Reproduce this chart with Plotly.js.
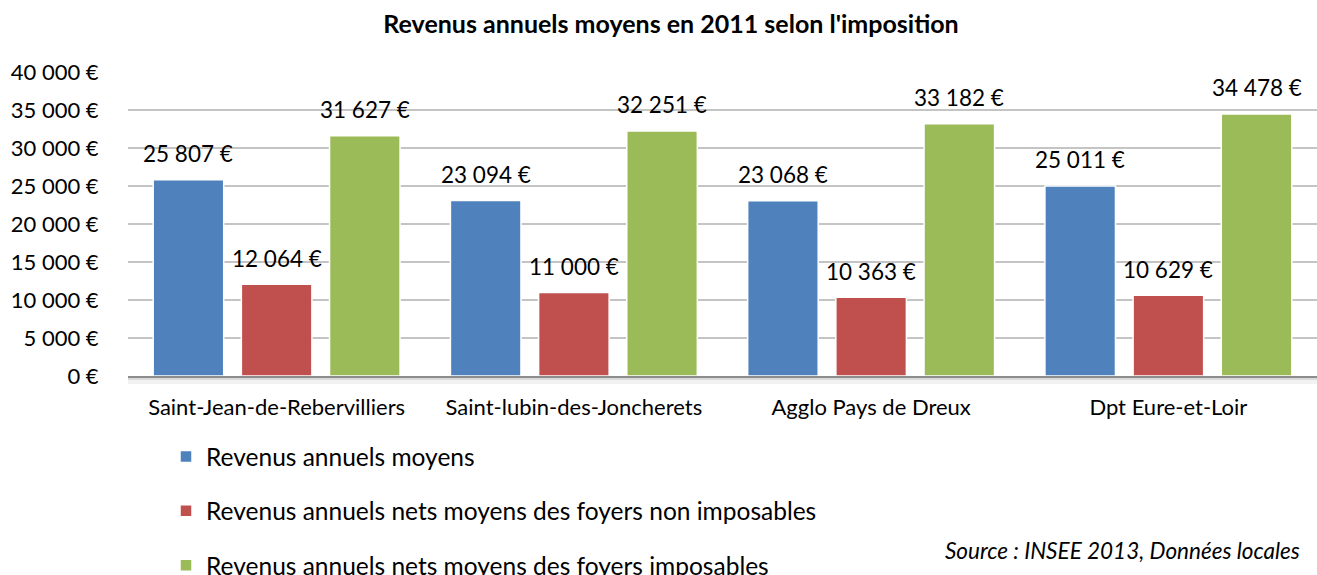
<!DOCTYPE html>
<html>
<head>
<meta charset="utf-8">
<script src="https://cdn.plot.ly/plotly-3.0.1.min.js"></script>
<style>html,body{margin:0;padding:0;background:#fff;}#chart{width:1317px;height:575px;}</style>
</head>
<body>
<div id="chart"></div>
<script>
const categories = ["Saint-Jean-de-Rebervilliers", "Saint-lubin-des-Joncherets", "Agglo Pays de Dreux", "Dpt Eure-et-Loir"];
const seriesNames = ["Revenus annuels moyens", "Revenus annuels nets moyens des foyers non imposables", "Revenus annuels nets moyens des foyers imposables"];
const revenusMoyens = [25807, 23094, 23068, 25011];
const revenusNonImposables = [12064, 11000, 10363, 10629];
const revenusImposables = [31627, 32251, 33182, 34478];
const colors = ["#4f81bd", "#c0504d", "#9bbb59"];
const yTicks = [0, 5000, 10000, 15000, 20000, 25000, 30000, 35000, 40000];

const FONT = "Lato, 'Open Sans', sans-serif";
const series = [revenusMoyens, revenusNonImposables, revenusImposables];

function fmt(v) {
  return String(v).replace(/\B(?=(\d{3})+(?!\d))/g, " ") + " €";
}

const traces = series.map((vals, i) => ({
  type: "bar",
  name: seriesNames[i],
  x: categories,
  y: vals,
  legendgroup: "g" + i,
  marker: { color: colors[i], line: { color: "#ffffff", width: 1.5 } },
  hoverinfo: "skip"
}));

const plotLeft = 128, plotRight = 1317;
const catW = (plotRight - plotLeft) / categories.length;
const bargap = 0.11;
const slot = catW * (1 - bargap) / 3;

const annotations = [];
series.forEach((vals, i) => {
  vals.forEach((v, j) => {
    annotations.push({
      x: categories[j], y: v, xref: "x", yref: "y",
      text: fmt(v), showarrow: false,
      xanchor: "center", yanchor: "middle",
      xshift: (i - 1) * slot, yshift: 26,
      font: { family: FONT, size: 22.5, color: "#000" }
    });
  });
});
annotations.push({
  xref: "paper", yref: "paper", x: (1302 - plotLeft) / (plotRight - plotLeft), y: -(550 - 376) / 304,
  xanchor: "right", yanchor: "middle", showarrow: false,
  text: "<i>Source : INSEE 2013, Données locales</i>",
  font: { family: FONT, size: 22.5, color: "#000" }
});

const layout = {
  width: 1317, height: 575,
  margin: { l: plotLeft, r: 1317 - plotRight, t: 72, b: 199, pad: 0, autoexpand: false },
  paper_bgcolor: "#fff", plot_bgcolor: "#fff",
  font: { family: FONT, color: "#000" },
  title: {
    text: "<b>Revenus annuels moyens en 2011 selon l'imposition</b>",
    xref: "container", yref: "container", x: 671 / 1317, y: 1 - 24 / 575,
    xanchor: "center", yanchor: "middle",
    font: { family: FONT, size: 25, color: "#000" }
  },
  barmode: "group",
  bargap: bargap,
  bargroupgap: 0.2,
  xaxis: {
    type: "category",
    showgrid: false,
    showline: true, linecolor: "#8c8c8c", linewidth: 2,
    ticks: "outside", ticklen: 11, tickcolor: "rgba(0,0,0,0)",
    tickangle: 0,
    automargin: false,
    tickfont: { family: FONT, size: 22, color: "#000" },
    fixedrange: true
  },
  yaxis: {
    range: [0, 40000],
    tickmode: "array",
    tickvals: yTicks,
    ticktext: yTicks.map(fmt),
    showgrid: true, gridcolor: "#c4c4c4", gridwidth: 1.5,
    zeroline: false,
    showline: false,
    automargin: false,
    ticks: "outside", ticklen: 24, tickcolor: "rgba(0,0,0,0)",
    tickfont: { family: FONT, size: 22, color: "#000" },
    fixedrange: true
  },
  shapes: [
    { type: "rect", xref: "paper", yref: "paper", x0: 0, x1: 1, ysizemode: "pixel", yanchor: 0, y0: -1, y1: -4,
      fillcolor: "rgba(0,0,0,0.14)", line: { width: 0 }, layer: "below" },
    { type: "rect", xref: "paper", yref: "paper", x0: 0, x1: 1, ysizemode: "pixel", yanchor: 0, y0: -4, y1: -8,
      fillcolor: "rgba(0,0,0,0.05)", line: { width: 0 }, layer: "below" }
  ],
  showlegend: true,
  legend: {
    orientation: "v",
    xref: "container", yref: "container",
    x: 166 / 1317, y: 1 - 434 / 575,
    xanchor: "left", yanchor: "top",
    tracegroupgap: 19.5,
    itemwidth: 30,
    font: { family: FONT, size: 24.5, color: "#000" },
    bgcolor: "rgba(0,0,0,0)"
  },
  annotations: annotations
};

Plotly.newPlot("chart", traces, layout, { displayModeBar: false, staticPlot: true });
</script>
</body>
</html>
